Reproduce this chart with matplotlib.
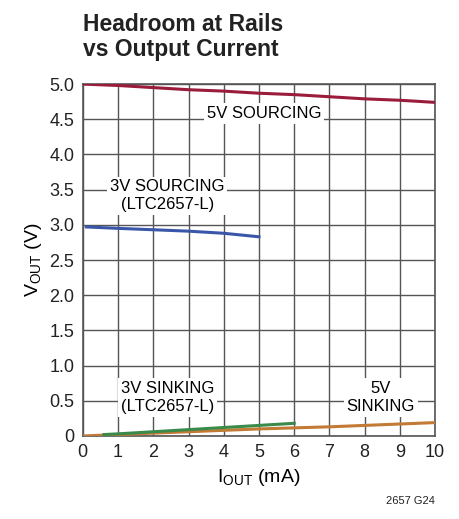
import matplotlib
matplotlib.use("Agg")
import matplotlib.pyplot as plt
from matplotlib import font_manager

names = {f.name for f in font_manager.fontManager.ttflist}
narrow = 'Liberation Sans Narrow' if 'Liberation Sans Narrow' in names else 'Liberation Sans'
plt.rcParams['font.family'] = [narrow, 'DejaVu Sans']

# data
x_5v_src = [0, 1, 2, 3, 4, 5, 6, 7, 8, 9, 10]
y_5v_src = [5.0, 4.98, 4.95, 4.92, 4.90, 4.87, 4.85, 4.82, 4.79, 4.77, 4.74]

x_3v_src = [0.1, 1, 2, 3, 4, 5]
y_3v_src = [2.97, 2.95, 2.93, 2.91, 2.88, 2.83]

x_3v_snk = [0.6, 1, 2, 3, 4, 5, 6]
y_3v_snk = [0.02, 0.03, 0.06, 0.09, 0.12, 0.15, 0.18]

x_5v_snk = [0, 1, 2, 3, 4, 5, 6, 7, 8, 9, 10]
y_5v_snk = [0.0, 0.02, 0.04, 0.06, 0.08, 0.10, 0.115, 0.13, 0.15, 0.17, 0.19]

xticks = list(range(0, 11))
yticks = [0, 0.5, 1.0, 1.5, 2.0, 2.5, 3.0, 3.5, 4.0, 4.5, 5.0]
ytick_labels = ['0', '0.5', '1.0', '1.5', '2.0', '2.5', '3.0', '3.5', '4.0', '4.5', '5.0']

fig = plt.figure(figsize=(4.6, 5.19), dpi=100)
ax = fig.add_axes([0.180, 0.160, 0.766, 0.678])

ax.plot(x_5v_src, y_5v_src, color='#9b1b3a', lw=2.2, zorder=3)
ax.plot(x_3v_src, y_3v_src, color='#3a56a8', lw=2.2, zorder=3)
ax.plot(x_5v_snk, y_5v_snk, color='#c27a35', lw=2.2, zorder=3)
ax.plot(x_3v_snk, y_3v_snk, color='#3a8a4a', lw=2.2, zorder=3)

ax.set_xlim(0, 10)
ax.set_ylim(0, 5)
ax.set_xticks(xticks)
ax.set_yticks(yticks)
ax.set_yticklabels(ytick_labels)
ax.tick_params(length=0, labelsize=13, pad=6, colors='#222222')
ax.grid(True, color='#555555', lw=1.0, zorder=1)
for s in ax.spines.values():
    s.set_color('#555555')
    s.set_linewidth(1.2)

box = dict(facecolor='white', edgecolor='none', pad=2)
ax.text(5.14, 4.58, '5V SOURCING', ha='center', va='center', fontsize=12, bbox=box, zorder=2)
ax.text(2.4, 3.41, '3V SOURCING\n(LTC2657-L)', ha='center', va='center', fontsize=12,
        linespacing=1.25, bbox=box, zorder=2)
ax.text(2.4, 0.55, '3V SINKING\n(LTC2657-L)', ha='center', va='center', fontsize=12,
        linespacing=1.25, bbox=box, zorder=2)
ax.text(8.45, 0.55, '5V\nSINKING', ha='center', va='center', fontsize=12,
        linespacing=1.25, bbox=box, zorder=2)

ax.set_xlabel('I$_{\\mathregular{OUT}}$ (mA)', fontsize=14, labelpad=4)
ax.set_ylabel('V$_{\\mathregular{OUT}}$ (V)', fontsize=14, labelpad=4)

fig.text(0.180, 0.882, 'Headroom at Rails\nvs Output Current', ha='left', va='bottom',
         fontsize=16.5, fontweight='bold', linespacing=1.15, color='#222222')
fig.text(0.946, 0.025, '2657 G24', ha='right', va='bottom', fontsize=8, color='#222222')

fig.savefig('out.png', dpi=100)
